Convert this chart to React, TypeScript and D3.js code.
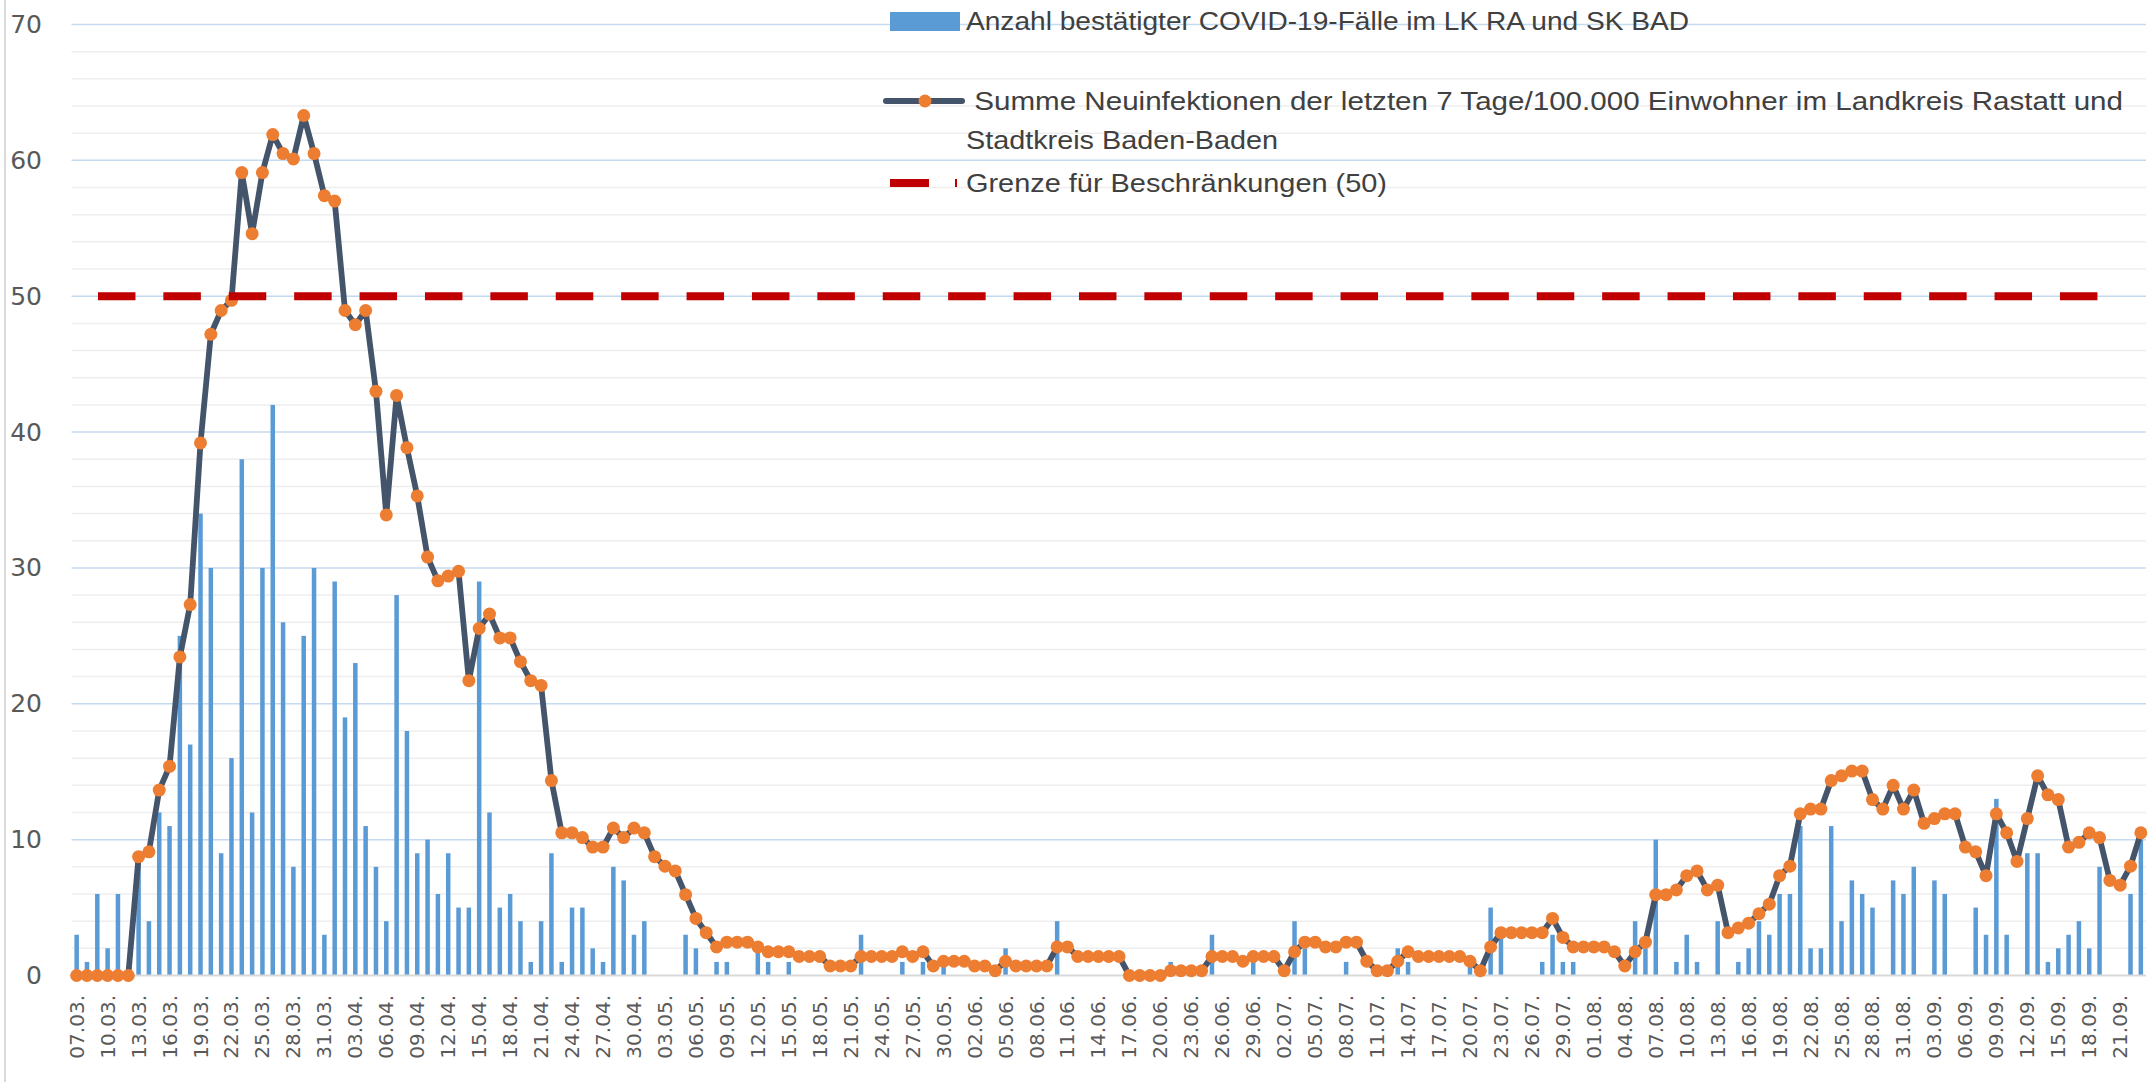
import * as d3 from 'd3'
import React from 'react'

// one category per day, 07.03. – 23.09.
const days = d3.timeDay.range(new Date(2020, 2, 7), new Date(2020, 8, 24))
const dayLabels = days.map(d3.timeFormat('%d.%m.'))

// confirmed cases per day (LK RA + SK BAD)
const cases = [
  3, 1, 6, 2, 6, 0, 9, 4, 12, 11,
  25, 17, 34, 30, 9, 16, 38, 12, 30, 42,
  26, 8, 25, 30, 3, 29, 19, 23, 11, 8,
  4, 28, 18, 9, 10, 6, 9, 5, 5, 29,
  12, 5, 6, 4, 1, 4, 9, 1, 5, 5,
  2, 1, 8, 7, 3, 4, 0, 0, 0, 3,
  2, 0, 1, 1, 0, 0, 2, 1, 0, 1,
  0, 0, 0, 0, 0, 0, 3, 0, 0, 0,
  1, 0, 1, 0, 1, 0, 0, 0, 0, 0,
  2, 0, 0, 0, 0, 4, 0, 0, 0, 0,
  0, 0, 0, 0, 0, 0, 1, 0, 0, 0,
  3, 0, 0, 0, 1, 0, 0, 0, 4, 2,
  0, 0, 0, 1, 0, 0, 0, 0, 2, 1,
  0, 0, 0, 0, 0, 1, 0, 5, 3, 0,
  0, 0, 1, 3, 1, 1, 0, 0, 0, 0,
  0, 4, 2, 10, 0, 1, 3, 1, 0, 4,
  0, 1, 2, 4, 3, 6, 6, 11, 2, 2,
  11, 4, 7, 6, 5, 0, 7, 6, 8, 0,
  7, 6, 0, 0, 5, 3, 13, 3, 0, 9,
  9, 1, 2, 3, 4, 2, 8, 0, 0, 6,
  10,
]

// 7-day sum of new infections per 100.000 inhabitants
const incidence = [
  0, 0, 0, 0, 0, 0, 8.75, 9.1, 13.65, 15.4,
  23.45, 27.3, 39.2, 47.2, 48.95, 49.7, 59.1, 54.6, 59.1, 61.9,
  60.5, 60.1, 63.3, 60.5, 57.4, 57.0, 48.95, 47.9, 48.95, 43.0,
  33.9, 42.7, 38.85, 35.3, 30.8, 29.05, 29.4, 29.75, 21.7, 25.55,
  26.6, 24.85, 24.85, 23.1, 21.7, 21.35, 14.35, 10.5, 10.5, 10.15,
  9.45, 9.45, 10.85, 10.15, 10.85, 10.5, 8.75, 8.05, 7.7, 5.95,
  4.2, 3.15, 2.1, 2.45, 2.45, 2.45, 2.1, 1.75, 1.75, 1.75,
  1.4, 1.4, 1.4, 0.7, 0.7, 0.7, 1.4, 1.4, 1.4, 1.4,
  1.75, 1.4, 1.75, 0.7, 1.05, 1.05, 1.05, 0.7, 0.7, 0.35,
  1.05, 0.7, 0.7, 0.7, 0.7, 2.1, 2.1, 1.4, 1.4, 1.4,
  1.4, 1.4, 0, 0, 0, 0, 0.35, 0.35, 0.35, 0.35,
  1.4, 1.4, 1.4, 1.05, 1.4, 1.4, 1.4, 0.35, 1.75, 2.45,
  2.45, 2.1, 2.1, 2.45, 2.45, 1.05, 0.35, 0.35, 1.05, 1.75,
  1.4, 1.4, 1.4, 1.4, 1.4, 1.05, 0.35, 2.1, 3.15, 3.15,
  3.15, 3.15, 3.15, 4.2, 2.8, 2.1, 2.1, 2.1, 2.1, 1.75,
  0.7, 1.75, 2.45, 5.95, 5.95, 6.3, 7.35, 7.7, 6.3, 6.65,
  3.15, 3.5, 3.85, 4.55, 5.25, 7.35, 8.05, 11.9, 12.25, 12.25,
  14.35, 14.7, 15.05, 15.05, 12.95, 12.25, 14.0, 12.25, 13.65, 11.2,
  11.55, 11.9, 11.9, 9.45, 9.1, 7.35, 11.9, 10.5, 8.4, 11.55,
  14.7, 13.3, 12.95, 9.45, 9.8, 10.5, 10.15, 7.0, 6.65, 8.05,
  10.5,
]

const limitValue = 50
const limitLastDay = '21.09.'

const legendLabels = [
  'Anzahl bestätigter COVID-19-Fälle im LK RA und SK BAD',
  ' Summe Neuinfektionen der letzten 7 Tage/100.000 Einwohner im Landkreis Rastatt und',
  'Stadtkreis Baden-Baden',
  'Grenze für Beschränkungen (50)',
]

const barColor = '#5B9BD5'
const lineColor = '#44546A'
const markerColor = '#ED7D31'
const limitColor = '#C00000'
const labelColor = '#595959'

export default function App() {
  const width = 2154
  const height = 1082

  const x = d3.scaleBand<string>().domain(dayLabels).range([71.5, 2146]).padding(0)
  const cx = (d: string) => x(d)! + x.bandwidth() / 2
  const y = d3.scaleLinear().domain([0, 70]).range([975.5, 24.5])

  const majorTicks = y.ticks(7)
  const minorTicks = y.ticks(35).filter((t) => t % 10 !== 0)
  const xTicks = dayLabels.filter((_, i) => i % 3 === 0)

  const line = d3
    .line<number>()
    .x((_, i) => cx(dayLabels[i]))
    .y((d) => y(d))

  const limitDays = dayLabels.slice(0, dayLabels.indexOf(limitLastDay) + 1)
  const limitLine = d3
    .line<string>()
    .x((d) => cx(d))
    .y(() => y(limitValue))

  const barW = 4.5
  const [x0, x1] = x.range()

  return (
    <svg
      width={width}
      height={height}
      style={{ position: 'absolute', left: 0, top: 0, background: '#fff' }}
    >
      <line x1={5} x2={5} y1={0} y2={height} stroke="#D9D9D9" strokeWidth={2} />

      {minorTicks.map((t) => (
        <line key={'m' + t} x1={x0} x2={x1} y1={y(t)} y2={y(t)} stroke="#EEEEEE" strokeWidth={1.5} />
      ))}
      {majorTicks.filter((t) => t > 0).map((t) => (
        <line key={'M' + t} x1={x0} x2={x1} y1={y(t)} y2={y(t)} stroke="#C5DAEE" strokeWidth={1.5} />
      ))}

      {cases.map((v, i) =>
        v > 0 ? (
          <rect
            key={'b' + i}
            x={cx(dayLabels[i]) - barW / 2}
            y={y(v)}
            width={barW}
            height={y(0) - y(v)}
            fill={barColor}
          />
        ) : null
      )}

      <line x1={x0} x2={x1} y1={y(0)} y2={y(0)} stroke="#D9D9D9" strokeWidth={2} />

      <path d={line(incidence)!} fill="none" stroke={lineColor} strokeWidth={5.8} strokeLinejoin="round" />
      {incidence.map((v, i) => (
        <circle key={'c' + i} cx={cx(dayLabels[i])} cy={y(v)} r={6.5} fill={markerColor} />
      ))}

      <path
        d={limitLine(limitDays)!}
        fill="none"
        stroke={limitColor}
        strokeWidth={8}
        strokeDasharray="37.5 27.9"
        strokeDashoffset={44.1}
      />

      {majorTicks.map((t) => (
        <text
          key={'y' + t}
          x={42}
          y={y(t)}
          textAnchor="end"
          dominantBaseline="central"
          fontFamily="DejaVu Sans"
          fontSize={25}
          fill={labelColor}
        >
          {t}
        </text>
      ))}

      {xTicks.map((d) => (
        <text
          key={'x' + d}
          transform={`translate(${cx(d)},995) rotate(-90)`}
          textAnchor="end"
          dominantBaseline="central"
          fontFamily="DejaVu Sans"
          fontSize={20}
          fill={labelColor}
        >
          {d}
        </text>
      ))}

      <g fontFamily="'Liberation Sans Narrow', 'Liberation Sans', sans-serif" fontSize={26} fill="#404040">
        <rect x={890} y={12} width={70} height={19} fill={barColor} />
        <text x={966} y={30} textLength={723} lengthAdjust="spacingAndGlyphs">{legendLabels[0]}</text>

        <line x1={886} x2={962} y1={101} y2={101} stroke={lineColor} strokeWidth={6} strokeLinecap="round" />
        <circle cx={925} cy={101} r={6.5} fill={markerColor} />
        <text x={966} y={110} textLength={1157} lengthAdjust="spacingAndGlyphs" xmlSpace="preserve">{legendLabels[1]}</text>
        <text x={966} y={149} textLength={312} lengthAdjust="spacingAndGlyphs">{legendLabels[2]}</text>

        <line x1={890} x2={957} y1={183} y2={183} stroke={limitColor} strokeWidth={8} strokeDasharray="39 26" />
        <text x={966} y={192} textLength={421} lengthAdjust="spacingAndGlyphs">{legendLabels[3]}</text>
      </g>
    </svg>
  )
}
